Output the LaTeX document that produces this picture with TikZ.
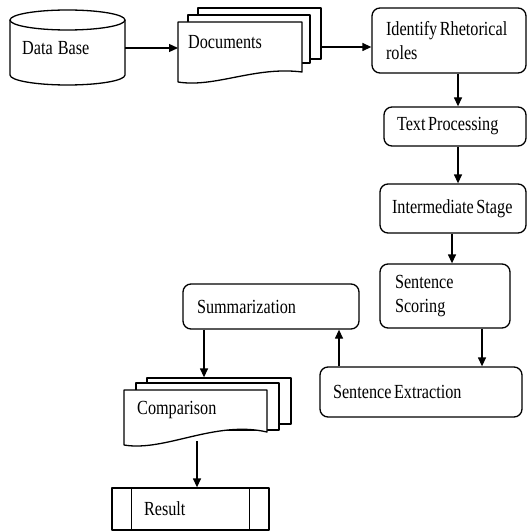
\documentclass[tikz,border=0pt]{standalone}
\usepackage{fontspec}
\setmainfont{Liberation Serif}[FakeStretch=0.81]
\usetikzlibrary{arrows.meta}
\newcommand{\dgfont}{\fontsize{20}{23.5}\selectfont}
\begin{document}
\begin{tikzpicture}[x=1pt,y=-1pt,
  ln/.style={line width=1.3pt, line join=round},
  arr/.style={line width=1.3pt, -{Triangle[length=9pt,width=8pt]}},
  tsp/.style={execute at begin node={\spaceskip=2.6pt plus 0.5pt minus 0.5pt\relax}},
  txt/.style={font=\dgfont, inner ysep=0pt, tsp},
  box/.style={ln, draw, fill=white, rounded corners=8pt, align=left, font=\dgfont, tsp},
  page/.style={ln, draw, fill=white}
]
\useasboundingbox (0,0) rectangle (528,532);

% Data Base cylinder
\draw[ln, fill=white] (10,20) -- (10,75) arc[start angle=180,end angle=0,x radius=57.5,y radius=10] -- (125,20);
\draw[ln] (67.5,20) ellipse[x radius=57.5, y radius=10];
\node (db)[txt, anchor=west, text width=91pt, inner xsep=12pt, align=left] at (10,48) {Data\hspace{5pt}Base};

% Documents (multi-document)
\node (docs3)[page, minimum width=123pt, minimum height=51pt, inner sep=0pt] at (259.5,33.5) {};
\node (docs2)[page, minimum width=122pt, minimum height=48pt, inner sep=0pt] at (249,39) {};
\draw[ln, fill=white] (178,22) -- (302,22) -- (302,72) .. controls (255,66) and (215,88) .. (178,82) -- cycle;
\node (docs)[txt, anchor=west, inner xsep=10pt] at (178,42) {Documents};

% right column
\node (ident)[box, minimum height=65pt, text width=126pt, inner xsep=14pt] at (449,40.5) {Identify Rhetorical\\roles};
\node (textp)[box, minimum height=39pt, text width=116pt, inner xsep=13pt] at (455,126.5) {Text Processing};
\node (inter)[box, minimum height=49pt, text width=128pt, inner xsep=9pt] at (453,208.5) {\hspace{3pt}Intermediate Stage};
\node (score)[box, minimum height=64pt, text width=100pt, inner xsep=15pt] at (445,296) {Sentence\\Scoring};
\node (extr)[box, minimum height=50pt, text width=176pt, inner xsep=13pt] at (421,392) {Sentence Extraction};
\node (summ)[box, minimum height=45pt, text width=148pt, inner xsep=14pt] at (271,306.5) {Summarization};

% Comparison (multi-document)
\node (comp3)[page, minimum width=144pt, minimum height=46pt, inner sep=0pt] at (219,401) {};
\node (comp2)[page, minimum width=143pt, minimum height=47pt, inner sep=0pt] at (207.5,406.5) {};
\draw[ln, fill=white] (124,390) -- (267,390) -- (267,432) .. controls (215,420) and (165,452) .. (124,445) -- cycle;
\node (comp)[txt, anchor=west, inner xsep=13pt] at (124,410) {Comparison};
\coordinate (compbot) at (197,441);

% Result (predefined process)
\node (result)[ln, draw, minimum height=42pt, text width=93pt, inner xsep=32pt, align=left, font=\dgfont, tsp] at (190.5,509) {Result};
\draw[ln] ([xshift=20pt]result.north west) -- ([xshift=20pt]result.south west);
\draw[ln] ([xshift=-20pt]result.north east) -- ([xshift=-20pt]result.south east);

% connectors
\draw[arr] (db.east) -- (db.east -| docs.west);
\draw[arr] ([yshift=-13.5pt]docs3.east) -- ([yshift=-13.5pt]docs3.east -| ident.west);
\draw[arr] ([xshift=9pt]ident.south) -- ([xshift=9pt]ident.south |- textp.north);
\draw[arr] ([xshift=3pt]textp.south) -- ([xshift=3pt]textp.south |- inter.north);
\draw[arr] ([xshift=-1pt]inter.south) -- ([xshift=-1pt]inter.south |- score.north);
\draw[arr] ([xshift=37pt]score.south) -- ([xshift=37pt]score.south |- extr.north);
\draw[arr] ([xshift=-82pt]extr.north) -- ([xshift=-82pt]extr.north |- summ.south);
\draw[arr] ([xshift=-67pt]summ.south) -- ([xshift=-67pt]summ.south |- comp3.north);
\draw[arr] (compbot) -- (compbot |- result.north);
\end{tikzpicture}
\end{document}
